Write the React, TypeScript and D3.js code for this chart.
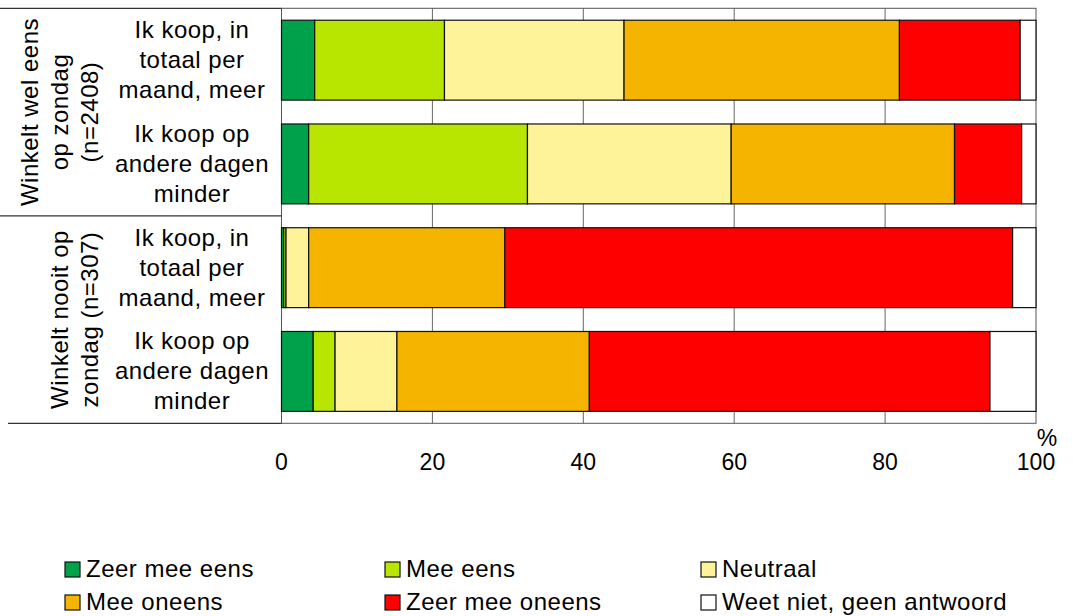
import React from "react";
import * as d3 from "d3";

const categoryLines: string[][] = [
  ["Ik koop, in", "totaal per", "maand, meer"],
  ["Ik koop op", "andere dagen", "minder"],
  ["Ik koop, in", "totaal per", "maand, meer"],
  ["Ik koop op", "andere dagen", "minder"],
];
const rowIds = ["r1", "r2", "r3", "r4"];

const groupLines: string[][] = [
  ["Winkelt wel eens", "op zondag", "(n=2408)"],
  ["Winkelt nooit op", "zondag (n=307)"],
];
const groupRows: string[][] = [
  ["r1", "r2"],
  ["r3", "r4"],
];

const seriesNames = [
  "Zeer mee eens",
  "Mee eens",
  "Neutraal",
  "Mee oneens",
  "Zeer mee oneens",
  "Weet niet, geen antwoord",
];
const seriesColors = ["#00A14B", "#B8E600", "#FFF399", "#F5B400", "#FF0000", "#FFFFFF"];

const zeerMeeEens = [4.4, 3.6, 0.3, 4.2];
const meeEens = [17.2, 29.0, 0.3, 2.9];
const neutraal = [23.8, 27.0, 3.0, 8.2];
const meeOneens = [36.5, 29.6, 26.0, 25.5];
const zeerMeeOneens = [16.0, 8.9, 67.3, 53.1];
const weetNiet = [2.1, 1.9, 3.1, 6.1];

const seriesValues = [zeerMeeEens, meeEens, neutraal, meeOneens, zeerMeeOneens, weetNiet];
const xTicks = [0, 20, 40, 60, 80, 100];

const FONT = "'Liberation Sans', Arial, Helvetica, sans-serif";

export default function App() {
  const W = 1074;
  const H = 616;
  const left = 281.5;
  const right = 1036;
  const top = 8.3;
  const bottom = 423.3;

  const x = d3.scaleLinear().domain([0, 100]).range([left, right]);
  const y = d3
    .scaleBand<string>()
    .domain(rowIds)
    .range([top, bottom])
    .paddingInner(0.23)
    .paddingOuter(0.115);

  const tableData = rowIds.map((id, i) => {
    const o: any = { id };
    seriesNames.forEach((s, k) => (o[s] = seriesValues[k][i]));
    return o;
  });
  const stacked = d3.stack<any>().keys(seriesNames)(tableData);

  const step = y.step();
  const rowTop = (id: string) => (y(id) as number) - (step * y.paddingInner()) / 2;
  const rowBottom = (id: string) => (y(id) as number) + y.bandwidth() + (step * y.paddingInner()) / 2;

  const lineH = 30;
  const fs = 24;
  const ls = 0.5;

  const legendCols = [65, 385, 701];
  const legendRows = [562, 595];

  return (
    <svg
      width={W}
      height={H}
      style={{ position: "absolute", left: 0, top: 0, background: "#fff" }}
      fontFamily={FONT}
    >
      <rect x={0} y={0} width={W} height={H} fill="#fff" />
      {/* gridlines */}
      {xTicks.slice(1, -1).map((t) => (
        <line key={t} x1={x(t)} x2={x(t)} y1={top} y2={bottom} stroke="#666" strokeWidth={1} />
      ))}
      {/* frame */}
      <rect x={left} y={top} width={right - left} height={bottom - top} fill="none" stroke="#555" strokeWidth={1} />

      {/* bars */}
      {stacked.map((layer, k) =>
        layer.map((d, i) => (
          <rect
            key={`${k}-${i}`}
            x={x(d[0])}
            y={y(rowIds[i])}
            width={Math.max(0, x(d[1]) - x(d[0]))}
            height={y.bandwidth()}
            fill={seriesColors[k]}
            stroke="#111"
            strokeWidth={1.2}
          />
        ))
      )}

      {/* left separators */}
      <line x1={0} x2={left} y1={top} y2={top} stroke="#333" strokeWidth={1.2} />
      <line
        x1={0}
        x2={left}
        y1={(rowBottom("r2") + rowTop("r3")) / 2}
        y2={(rowBottom("r2") + rowTop("r3")) / 2}
        stroke="#333"
        strokeWidth={1.2}
      />
      <line x1={8} x2={left} y1={bottom} y2={bottom} stroke="#333" strokeWidth={1.2} />

      {/* category labels */}
      {rowIds.map((id, i) => {
        const cy = (y(id) as number) + y.bandwidth() / 2;
        const lines = categoryLines[i];
        return (
          <text key={id} textAnchor="middle" fontSize={fs} letterSpacing={ls} fill="#000">
            {lines.map((l, j) => (
              <tspan key={j} x={192} y={cy + (j - (lines.length - 1) / 2) * lineH + 8}>
                {l}
              </tspan>
            ))}
          </text>
        );
      })}

      {/* group labels */}
      {groupLines.map((lines, g) => {
        const rows = groupRows[g];
        const cy = (rowTop(rows[0]) + rowBottom(rows[rows.length - 1])) / 2;
        return (
          <g key={g}>
            {lines.map((l, j) => {
              const bx = 98 - (lines.length - 1 - j) * lineH;
              return (
                <text
                  key={j}
                  transform={`translate(${bx},${cy}) rotate(-90)`}
                  textAnchor="middle"
                  fontSize={fs}
                  letterSpacing={ls}
                  fill="#000"
                >
                  {l}
                </text>
              );
            })}
          </g>
        );
      })}

      {/* x tick labels */}
      {xTicks.map((t) => (
        <text key={t} x={x(t)} y={470} textAnchor="middle" fontSize={23} fill="#000">
          {t}
        </text>
      ))}
      <text x={x(100) + 11} y={446} textAnchor="middle" fontSize={23} fill="#000">
        %
      </text>

      {/* legend */}
      {seriesNames.map((s, k) => {
        const cx = legendCols[k % 3];
        const ry = legendRows[Math.floor(k / 3)];
        return (
          <g key={s}>
            <rect x={cx} y={ry} width={15} height={15} fill={seriesColors[k]} stroke="#111" strokeWidth={1.2} />
            <text x={cx + 21} y={ry + 15} fontSize={fs} letterSpacing={ls} fill="#000">
              {s}
            </text>
          </g>
        );
      })}
    </svg>
  );
}
